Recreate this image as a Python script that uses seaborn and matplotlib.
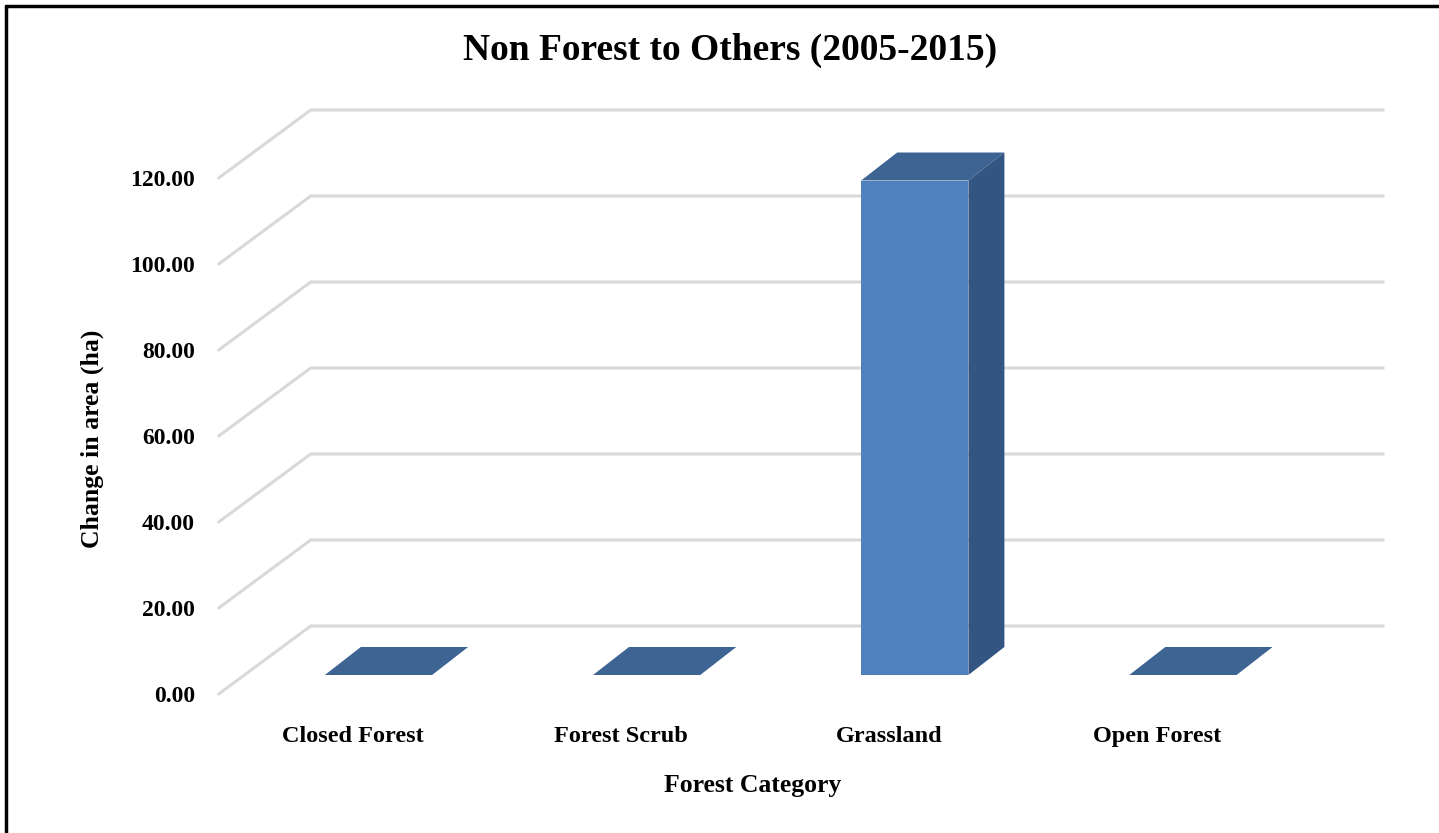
import matplotlib
matplotlib.use("Agg")
import matplotlib.pyplot as plt
import matplotlib.transforms as mtransforms
from matplotlib.patches import Polygon
from matplotlib.lines import Line2D
import seaborn as sns
import pandas as pd

# ---- data ----
categories = ["Closed Forest", "Forest Scrub", "Grassland", "Open Forest"]
values = [0.0, 0.0, 115.0, 0.0]
yticks = [0, 20, 40, 60, 80, 100, 120]
title = "Non Forest to Others (2005-2015)"
xlabel = "Forest Category"
ylabel = "Change in area (ha)"

# ---- style ----
FRONT = "#4F81BD"
TOP = "#3D6492"
SIDE = "#325581"
GRID = "#D9D9D9"
BAR_OFF = (25.7, 19.0)     # px shift of bar front plane from front floor plane
DEPTH = (36.0, 28.0)       # px depth of bar
BACK_OFF = (92.0, 68.0)    # px shift of back wall from front floor plane

sns.set_theme(style="white")
plt.rcParams["font.family"] = ["Liberation Serif", "DejaVu Serif"]
plt.rcParams["font.weight"] = "bold"
for k in ["text.color", "axes.labelcolor", "xtick.color", "ytick.color"]:
    plt.rcParams[k] = "black"

W, H, DPI = 1439, 833, 100
fig = plt.figure(figsize=(W / DPI, H / DPI), dpi=DPI)
ax = fig.add_axes([218.7 / W, (H - 694) / H, (1291.3 - 218.7) / W, 516 / H])
ax.patch.set_visible(False)

df = pd.DataFrame({"cat": categories, "val": values})
sns.barplot(data=df, x="cat", y="val", color=FRONT, width=0.4, saturation=1,
            linewidth=0, ax=ax, zorder=3)
ax.set_xlim(-0.5, len(categories) - 0.5)
ax.set_ylim(0, 120)
for s in ax.spines.values():
    s.set_visible(False)
ax.grid(False)

ax.set_yticks(yticks)
ax.set_yticklabels([f"{v:.2f}" for v in yticks], fontsize=17, fontweight="bold")
ax.set_xticks(range(len(categories)))
ax.set_xticklabels(categories, fontsize=17.5, fontweight="bold")
ax.tick_params(axis="y", length=0, pad=17)
ax.tick_params(axis="x", length=0, pad=22.8)

ax.set_xlabel(xlabel, fontsize=18.5, fontweight="bold")
ax.set_ylabel(ylabel, fontsize=18.5, fontweight="bold")
ax.xaxis.set_label_coords(0.498, -0.177)
ax.xaxis.label.set_va("center")
ax.yaxis.set_label_coords(-0.118, 0.494)
ax.yaxis.label.set_va("center")
ax.yaxis.label.set_ha("center")

ident = mtransforms.IdentityTransform()

def disp(x, y, off=(0, 0)):
    px, py = ax.transData.transform((x, y))
    return (px + off[0], py + off[1])

# gridlines: floor diagonals and back wall
x_left, x_right = ax.get_xlim()
for v in yticks:
    p_front = disp(x_left, v)
    p_back = disp(x_left, v, BACK_OFF)
    p_back_r = disp(x_right, v, BACK_OFF)
    ln = Line2D([p_front[0], p_back[0], p_back_r[0]],
                [p_front[1], p_back[1], p_back_r[1]],
                transform=ident, color=GRID, lw=2.2, zorder=0,
                solid_joinstyle="miter")
    fig.add_artist(ln)

# bars: shift front faces and add top/side faces
bar_tr = mtransforms.offset_copy(ax.transData, fig=fig, x=BAR_OFF[0], y=BAR_OFF[1], units="dots")
for p in ax.patches:
    x0 = p.get_x()
    x1 = x0 + p.get_width()
    h = p.get_height()
    p.set_transform(bar_tr)
    p.set_clip_on(False)
    d = (BAR_OFF[0] + DEPTH[0], BAR_OFF[1] + DEPTH[1])
    top = [disp(x0, h, BAR_OFF), disp(x1, h, BAR_OFF), disp(x1, h, d), disp(x0, h, d)]
    fig.add_artist(Polygon(top, closed=True, transform=ident, facecolor=TOP,
                           edgecolor="none", zorder=4))
    if h > 0:
        side = [disp(x1, 0, BAR_OFF), disp(x1, h, BAR_OFF), disp(x1, h, d), disp(x1, 0, d)]
        fig.add_artist(Polygon(side, closed=True, transform=ident, facecolor=SIDE,
                               edgecolor="none", zorder=4))

# title
fig.text(730 / W, 1 - 50 / H, title, fontsize=27, fontweight="bold",
         ha="center", va="center")

# outer border (top and left)
fig.add_artist(Line2D([6 / W, 1.0], [1 - 6 / H, 1 - 6 / H], transform=fig.transFigure,
                      color="black", lw=2.5))
fig.add_artist(Line2D([6 / W, 6 / W], [0, 1 - 6 / H], transform=fig.transFigure,
                      color="black", lw=2.5))

fig.savefig("out.png", dpi=DPI)
